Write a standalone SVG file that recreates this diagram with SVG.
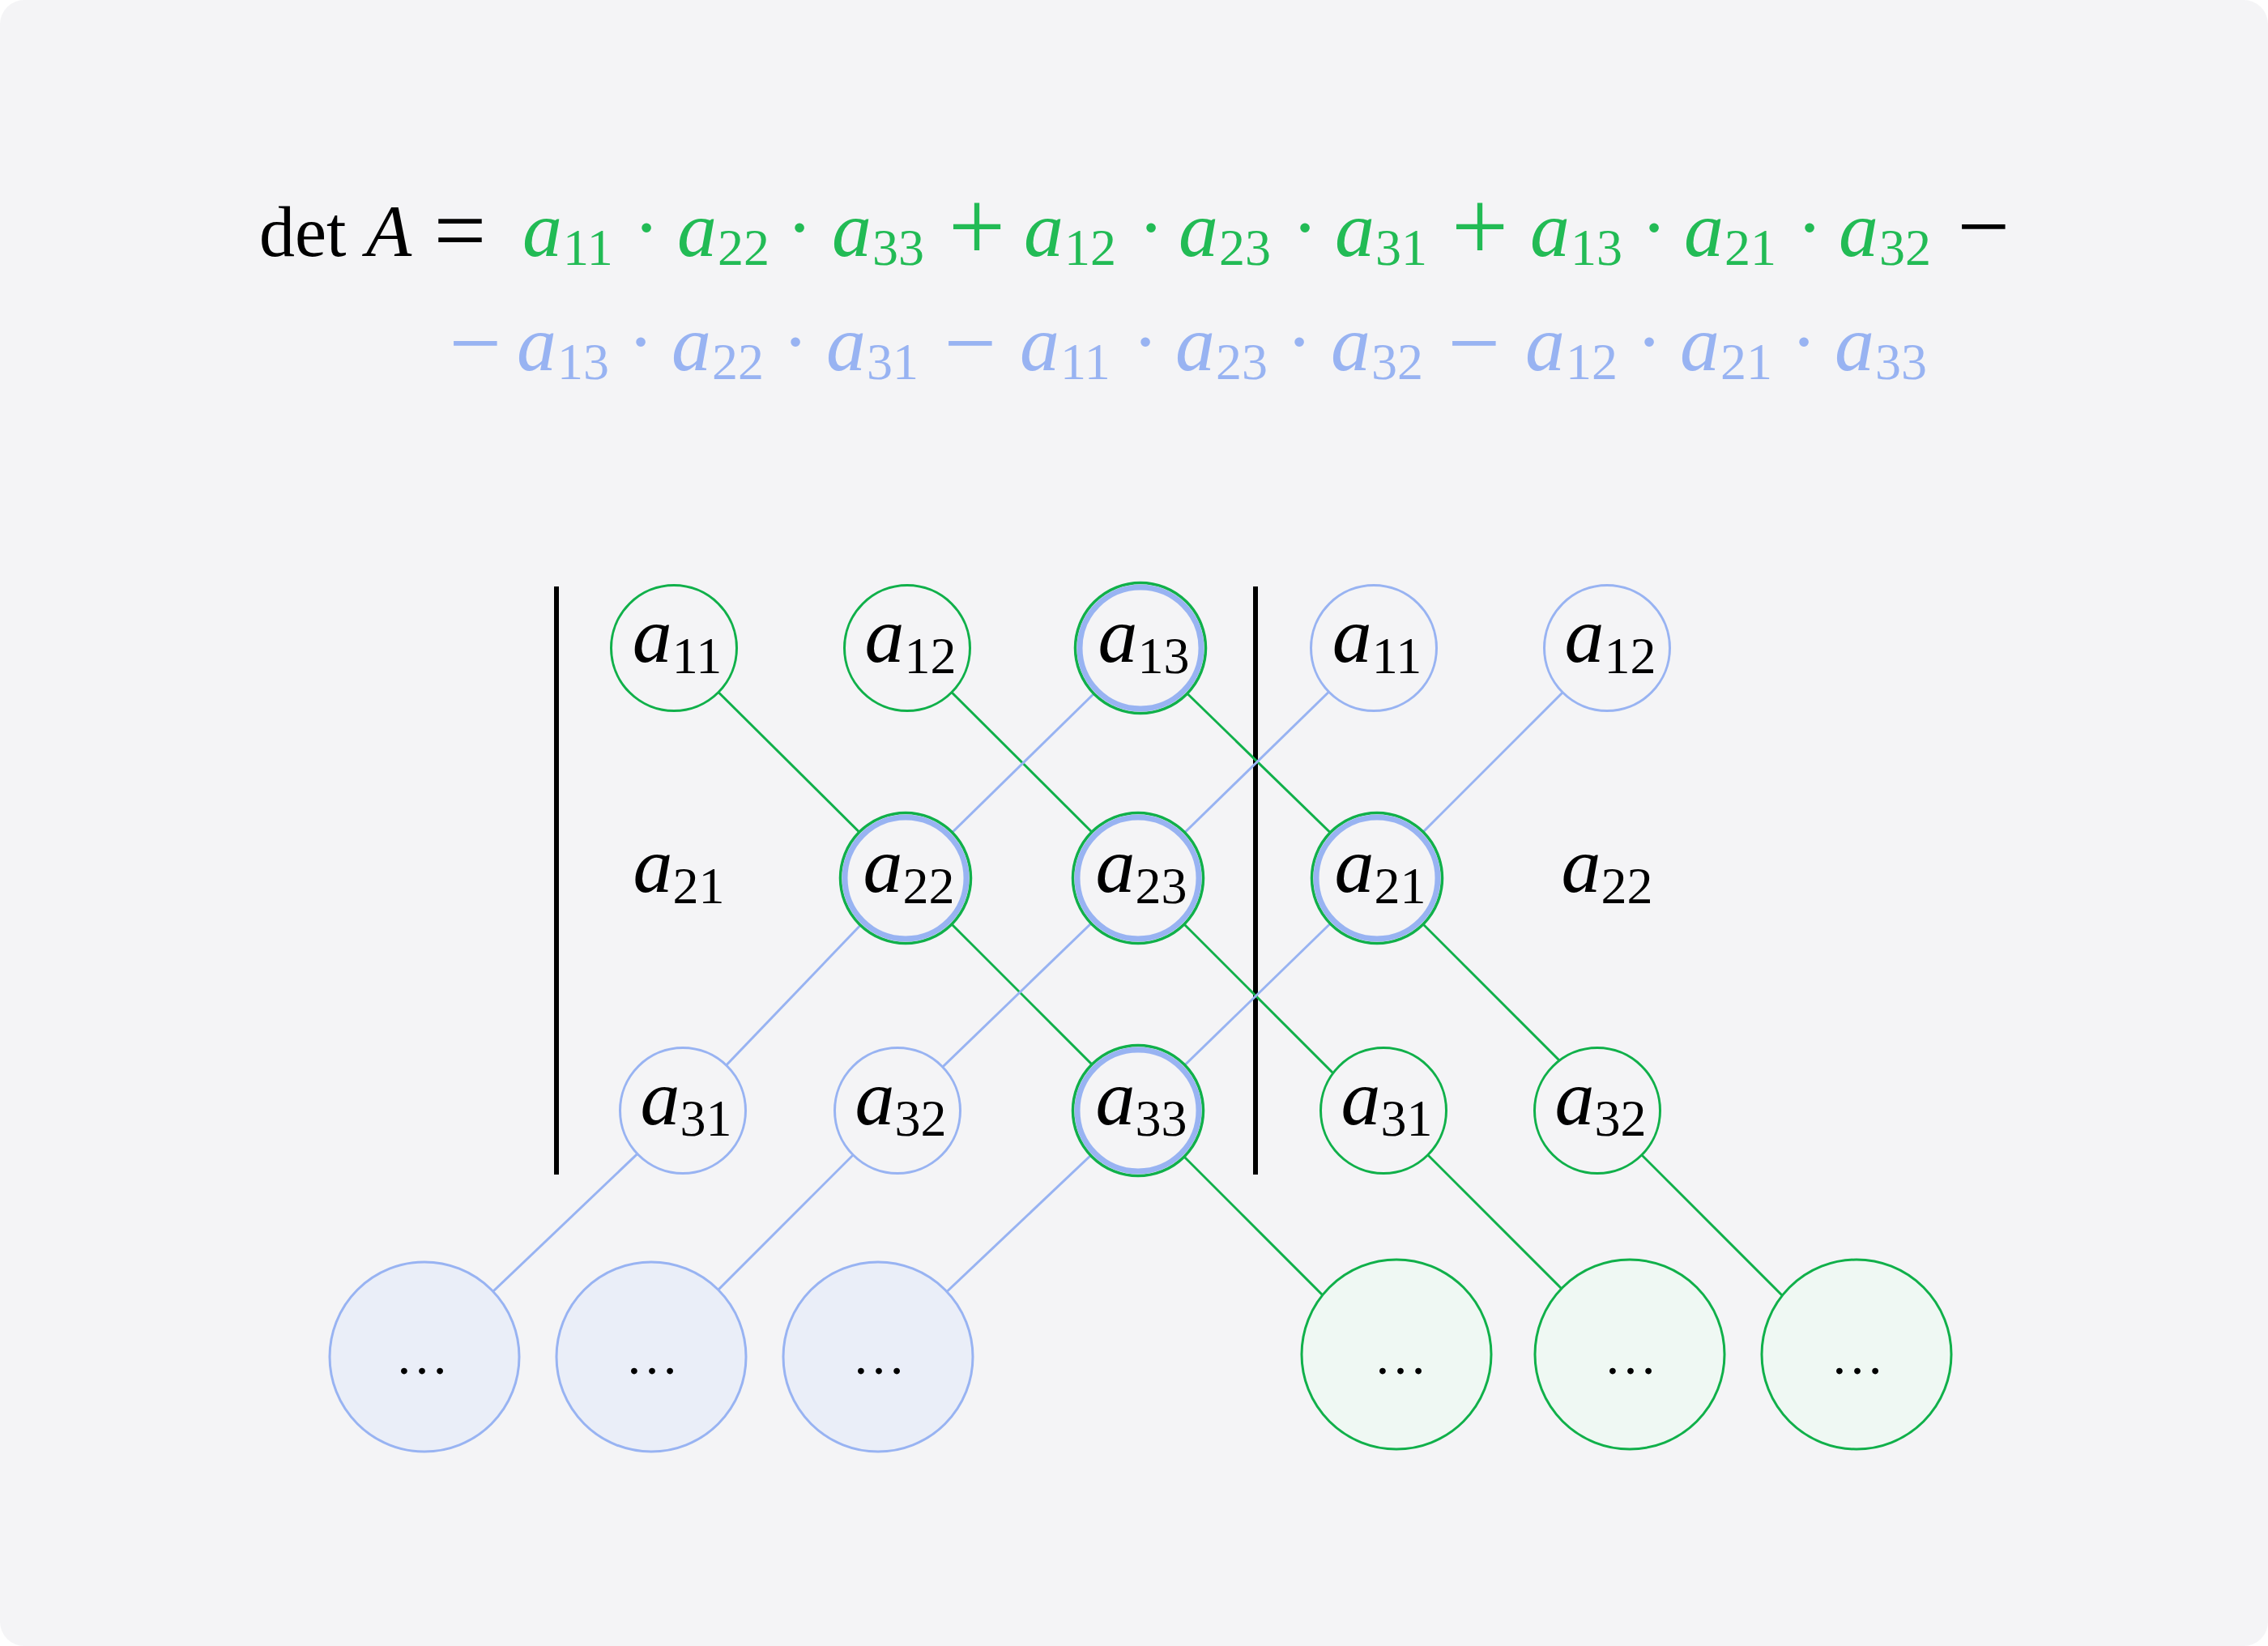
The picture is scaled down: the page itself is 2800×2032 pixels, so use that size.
<svg xmlns="http://www.w3.org/2000/svg" width="2800" height="2032" viewBox="0 0 2800 2032">
<style>
.bg{fill:#f4f4f6}
.it{font-family:"Liberation Serif",serif;font-style:italic;font-size:98px}
.sb{font-family:"Liberation Serif",serif;font-size:64px}
.op{font-family:"Liberation Serif",serif;text-anchor:middle}
.g{fill:#22bb55}
.b{fill:#98b3f2}
.k{fill:#000000}
.eg{stroke:#10b04a;stroke-width:3;fill:none}
.eb{stroke:#98b3f2;stroke-width:3;fill:none}
.ng{fill:#f4f4f6;stroke:#10b04a;stroke-width:3}
.nb{fill:#f4f4f6;stroke:#98b3f2;stroke-width:3}
.rg{fill:#f4f4f6;stroke:#10b04a;stroke-width:3.5}
.rb{fill:none;stroke:#98b3f2;stroke-width:7}
.bbig{fill:#eaeef8;stroke:#98b3f2;stroke-width:3}
.gbig{fill:#eff8f3;stroke:#10b04a;stroke-width:3}
.lbl{text-anchor:middle;fill:#000}
.dots{font-family:"Liberation Serif",serif;font-size:66px;text-anchor:middle;fill:#000}
.bar{stroke:#000;stroke-width:6}
</style>
<rect x="0" y="0" width="2800" height="2032" fill="#ffffff"/>
<rect class="bg" x="0" y="0" width="2800" height="2032" rx="30" ry="30"/>

<g id="formula">
<text x="320" y="316" class="k" style="font-family:'Liberation Serif',serif;font-size:88px">det</text>
<text x="452" y="316" class="k" style="font-family:'Liberation Serif',serif;font-style:italic;font-size:92px">A</text>
<text x="568" y="323" class="op k" style="font-size:115px">=</text>

<text x="645" y="316" class="g"><tspan class="it">a</tspan><tspan class="sb" x="695" dy="11">11</tspan></text>
<text x="798" y="314" class="op g" style="font-size:98px">·</text>
<text x="836" y="316" class="g"><tspan class="it">a</tspan><tspan class="sb" x="886" dy="11">22</tspan></text>
<text x="987" y="314" class="op g" style="font-size:98px">·</text>
<text x="1027" y="316" class="g"><tspan class="it">a</tspan><tspan class="sb" x="1077" dy="11">33</tspan></text>
<text x="1206" y="321" class="op g" style="font-size:125px">+</text>
<text x="1264" y="316" class="g"><tspan class="it">a</tspan><tspan class="sb" x="1314" dy="11">12</tspan></text>
<text x="1421" y="314" class="op g" style="font-size:98px">·</text>
<text x="1455" y="316" class="g"><tspan class="it">a</tspan><tspan class="sb" x="1505" dy="11">23</tspan></text>
<text x="1611" y="314" class="op g" style="font-size:98px">·</text>
<text x="1648" y="316" class="g"><tspan class="it">a</tspan><tspan class="sb" x="1698" dy="11">31</tspan></text>
<text x="1827" y="321" class="op g" style="font-size:125px">+</text>
<text x="1889" y="316" class="g"><tspan class="it">a</tspan><tspan class="sb" x="1939" dy="11">13</tspan></text>
<text x="2042" y="314" class="op g" style="font-size:98px">·</text>
<text x="2079" y="316" class="g"><tspan class="it">a</tspan><tspan class="sb" x="2129" dy="11">21</tspan></text>
<text x="2234" y="314" class="op g" style="font-size:98px">·</text>
<text x="2270" y="316" class="g"><tspan class="it">a</tspan><tspan class="sb" x="2320" dy="11">32</tspan></text>
<text x="2449" y="318" class="op k" style="font-size:115px">−</text>

<text x="587" y="462" class="op b" style="font-size:115px">−</text>
<text x="638" y="457" class="b"><tspan class="it">a</tspan><tspan class="sb" x="688" dy="11">13</tspan></text>
<text x="791" y="455" class="op b" style="font-size:98px">·</text>
<text x="829" y="457" class="b"><tspan class="it">a</tspan><tspan class="sb" x="879" dy="11">22</tspan></text>
<text x="982" y="455" class="op b" style="font-size:98px">·</text>
<text x="1020" y="457" class="b"><tspan class="it">a</tspan><tspan class="sb" x="1070" dy="11">31</tspan></text>
<text x="1198" y="462" class="op b" style="font-size:115px">−</text>
<text x="1259" y="457" class="b"><tspan class="it">a</tspan><tspan class="sb" x="1309" dy="11">11</tspan></text>
<text x="1414" y="455" class="op b" style="font-size:98px">·</text>
<text x="1451" y="457" class="b"><tspan class="it">a</tspan><tspan class="sb" x="1501" dy="11">23</tspan></text>
<text x="1604" y="455" class="op b" style="font-size:98px">·</text>
<text x="1643" y="457" class="b"><tspan class="it">a</tspan><tspan class="sb" x="1693" dy="11">32</tspan></text>
<text x="1820" y="462" class="op b" style="font-size:115px">−</text>
<text x="1883" y="457" class="b"><tspan class="it">a</tspan><tspan class="sb" x="1933" dy="11">12</tspan></text>
<text x="2036" y="455" class="op b" style="font-size:98px">·</text>
<text x="2074" y="457" class="b"><tspan class="it">a</tspan><tspan class="sb" x="2124" dy="11">21</tspan></text>
<text x="2227" y="455" class="op b" style="font-size:98px">·</text>
<text x="2265" y="457" class="b"><tspan class="it">a</tspan><tspan class="sb" x="2315" dy="11">33</tspan></text>
</g>

<g id="bars">
<line class="bar" x1="687" y1="724" x2="687" y2="1450"/>
<line class="bar" x1="1550" y1="724" x2="1550" y2="1450"/>
</g>

<g id="connectors">
<line class="eg" x1="832" y1="800" x2="1118" y2="1084"/>
<line class="eg" x1="1118" y1="1084" x2="1405" y2="1371"/>
<line class="eg" x1="1405" y1="1371" x2="1712" y2="1678"/>
<line class="eg" x1="1120" y1="800" x2="1405" y2="1084"/>
<line class="eg" x1="1405" y1="1084" x2="1700" y2="1379"/>
<line class="eg" x1="1708" y1="1371" x2="2005" y2="1668"/>
<line class="eg" x1="1408" y1="800" x2="1700" y2="1084"/>
<line class="eg" x1="1700" y1="1084" x2="1980" y2="1364"/>
<line class="eg" x1="1972" y1="1371" x2="2280" y2="1679"/>
<line class="eb" x1="1408" y1="800" x2="1118" y2="1084"/>
<line class="eb" x1="1118" y1="1084" x2="843" y2="1371"/>
<line class="eb" x1="843" y1="1371" x2="524" y2="1675"/>
<line class="eb" x1="1696" y1="800" x2="1405" y2="1084"/>
<line class="eb" x1="1405" y1="1084" x2="1108" y2="1371"/>
<line class="eb" x1="1108" y1="1371" x2="804" y2="1675"/>
<line class="eb" x1="1984" y1="800" x2="1700" y2="1084"/>
<line class="eb" x1="1700" y1="1084" x2="1405" y2="1371"/>
<line class="eb" x1="1405" y1="1371" x2="1084" y2="1675"/>
</g>

<g id="n_a11"><circle class="ng" cx="832" cy="800" r="77.5"/><text class="lbl" x="836" y="817"><tspan class="it">a</tspan><tspan class="sb" dy="14">11</tspan></text></g>
<g id="n_a12"><circle class="ng" cx="1120" cy="800" r="77.5"/><text class="lbl" x="1124" y="817"><tspan class="it">a</tspan><tspan class="sb" dy="14">12</tspan></text></g>
<g id="n_a13"><circle class="rg" cx="1408" cy="800" r="80.5"/><circle class="rb" cx="1408" cy="800" r="75"/><text class="lbl" x="1412" y="817"><tspan class="it">a</tspan><tspan class="sb" dy="14">13</tspan></text></g>
<g id="n_a11b"><circle class="nb" cx="1696" cy="800" r="77.5"/><text class="lbl" x="1700" y="817"><tspan class="it">a</tspan><tspan class="sb" dy="14">11</tspan></text></g>
<g id="n_a12b"><circle class="nb" cx="1984" cy="800" r="77.5"/><text class="lbl" x="1988" y="817"><tspan class="it">a</tspan><tspan class="sb" dy="14">12</tspan></text></g>

<g id="n_a21"><text class="lbl" x="838" y="1101"><tspan class="it">a</tspan><tspan class="sb" dy="14">21</tspan></text></g>
<g id="n_a22"><circle class="rg" cx="1118" cy="1084" r="80.5"/><circle class="rb" cx="1118" cy="1084" r="75"/><text class="lbl" x="1122" y="1101"><tspan class="it">a</tspan><tspan class="sb" dy="14">22</tspan></text></g>
<g id="n_a23"><circle class="rg" cx="1405" cy="1084" r="80.5"/><circle class="rb" cx="1405" cy="1084" r="75"/><text class="lbl" x="1409" y="1101"><tspan class="it">a</tspan><tspan class="sb" dy="14">23</tspan></text></g>
<g id="n_a21b"><circle class="rg" cx="1700" cy="1084" r="80.5"/><circle class="rb" cx="1700" cy="1084" r="75"/><text class="lbl" x="1704" y="1101"><tspan class="it">a</tspan><tspan class="sb" dy="14">21</tspan></text></g>
<g id="n_a22b"><text class="lbl" x="1984" y="1101"><tspan class="it">a</tspan><tspan class="sb" dy="14">22</tspan></text></g>

<g id="n_a31"><circle class="nb" cx="843" cy="1371" r="77.5"/><text class="lbl" x="847" y="1388"><tspan class="it">a</tspan><tspan class="sb" dy="14">31</tspan></text></g>
<g id="n_a32"><circle class="nb" cx="1108" cy="1371" r="77.5"/><text class="lbl" x="1112" y="1388"><tspan class="it">a</tspan><tspan class="sb" dy="14">32</tspan></text></g>
<g id="n_a33"><circle class="rg" cx="1405" cy="1371" r="80.5"/><circle class="rb" cx="1405" cy="1371" r="75"/><text class="lbl" x="1409" y="1388"><tspan class="it">a</tspan><tspan class="sb" dy="14">33</tspan></text></g>
<g id="n_a31b"><circle class="ng" cx="1708" cy="1371" r="77.5"/><text class="lbl" x="1712" y="1388"><tspan class="it">a</tspan><tspan class="sb" dy="14">31</tspan></text></g>
<g id="n_a32b"><circle class="ng" cx="1972" cy="1371" r="77.5"/><text class="lbl" x="1976" y="1388"><tspan class="it">a</tspan><tspan class="sb" dy="14">32</tspan></text></g>

<g id="n_b1"><circle class="bbig" cx="524" cy="1675" r="117"/><text class="dots" x="521" y="1696">…</text></g>
<g id="n_b2"><circle class="bbig" cx="804" cy="1675" r="117"/><text class="dots" x="805" y="1696">…</text></g>
<g id="n_b3"><circle class="bbig" cx="1084" cy="1675" r="117"/><text class="dots" x="1085" y="1696">…</text></g>
<g id="n_g1"><circle class="gbig" cx="1724" cy="1672" r="117"/><text class="dots" x="1729" y="1696">…</text></g>
<g id="n_g2"><circle class="gbig" cx="2012" cy="1672" r="117"/><text class="dots" x="2013" y="1696">…</text></g>
<g id="n_g3"><circle class="gbig" cx="2292" cy="1672" r="117"/><text class="dots" x="2293" y="1696">…</text></g>
</svg>
